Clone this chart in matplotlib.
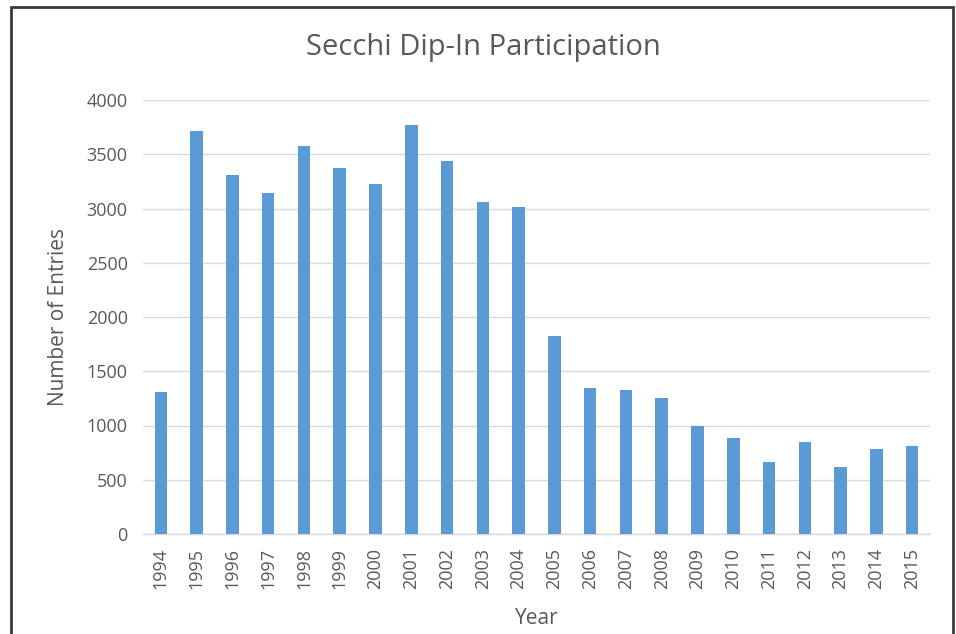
"""
Secchi Dip-In participation by year, drawn as an Excel-style column chart.
"""

import matplotlib
matplotlib.use("Agg")
import matplotlib.pyplot as plt
from matplotlib.patches import Rectangle

years = [str(y) for y in range(1994, 2016)]
entries = [1310, 3715, 3305, 3140, 3575, 3370, 3230, 3770, 3435, 3060, 3012,
           1822, 1342, 1328, 1255, 995, 882, 662, 848, 620, 783, 810]
y_ticks = [0, 500, 1000, 1500, 2000, 2500, 3000, 3500, 4000]

W, H = 956, 634
text_gray = "#595959"
plt.rcParams["font.family"] = ["Open Sans", "DejaVu Sans"]

fig = plt.figure(figsize=(W / 100, H / 100), dpi=100)
ax = fig.add_axes([143 / W, 1 - 534 / H, (930 - 143) / W, (534 - 100) / H])

x = list(range(len(years)))
ax.bar(x, entries, width=0.35, color="#5b9bd5", zorder=3)

ax.set_xlim(-0.5, len(years) - 0.5)
ax.set_ylim(0, 4000)
ax.set_yticks(y_ticks)
ax.set_yticklabels([str(t) for t in y_ticks], fontsize=13, color=text_gray)
ax.set_xticks(x)
ax.set_xticklabels(years, rotation=90, fontsize=13, color=text_gray)
ax.tick_params(axis="both", length=0)
ax.tick_params(axis="y", pad=11)
ax.tick_params(axis="x", pad=10)

ax.grid(axis="y", color="#d9d9d9", linewidth=1, zorder=0)
for side in ["top", "right", "left"]:
    ax.spines[side].set_visible(False)
ax.spines["bottom"].set_color("#d9d9d9")
ax.spines["bottom"].set_linewidth(1)

ax.set_xlabel("Year", fontsize=15, color=text_gray)
ax.set_ylabel("Number of Entries", fontsize=15, color=text_gray)
ax.xaxis.set_label_coords(0.5, (534 - 608) / 434)
ax.yaxis.set_label_coords((69 - 143) / 787, 0.5)

fig.text(483 / W, 1 - 48 / H, "Secchi Dip-In Participation", ha="center",
         va="center", fontsize=21, color=text_gray)

# dark frame around the chart, bottom edge falls off the picture
fig.patches.append(Rectangle((11 / W, -0.05), (953 - 11) / W, 1.05 - 7 / H,
                             transform=fig.transFigure, fill=False,
                             edgecolor="#3a3a3a", linewidth=2))

fig.savefig("out.png", dpi=100)
